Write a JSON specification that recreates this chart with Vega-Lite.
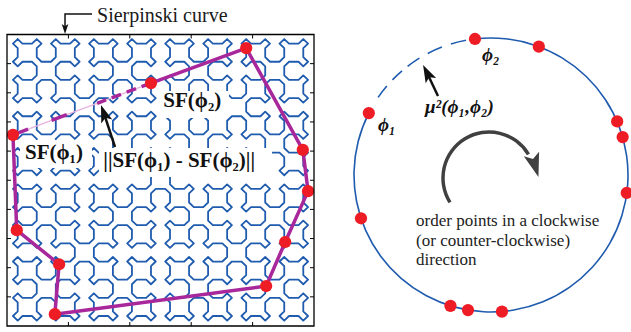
{
"$schema":"https://vega.github.io/schema/vega-lite/v6.json",
"width":631,"height":332,
"autosize":{"type":"fit","contains":"padding"},
"padding":0,
"background":"white",
"config":{"view":{"stroke":null},"text":{"font":"Liberation Serif"}},
"datasets":{
"curve":[
{"x":0,"y":0},{"x":1,"y":-1},{"x":3,"y":-1},{"x":4,"y":0},{"x":5,"y":-1},{"x":4,"y":-2},{"x":4,"y":-4},{"x":5,"y":-5},{"x":7,"y":-5},{"x":8,"y":-4},{"x":8,"y":-2},{"x":7,"y":-1},{"x":8,"y":0},{"x":9,"y":-1},{"x":11,"y":-1},{"x":12,"y":0},
{"x":13,"y":-1},{"x":12,"y":-2},{"x":12,"y":-4},{"x":13,"y":-5},{"x":12,"y":-6},{"x":11,"y":-5},{"x":9,"y":-5},{"x":8,"y":-6},{"x":8,"y":-8},{"x":9,"y":-9},{"x":11,"y":-9},{"x":12,"y":-8},{"x":13,"y":-9},{"x":12,"y":-10},{"x":12,"y":-12},{"x":13,"y":-13},
{"x":15,"y":-13},{"x":16,"y":-12},{"x":16,"y":-10},{"x":15,"y":-9},{"x":16,"y":-8},{"x":17,"y":-9},{"x":19,"y":-9},{"x":20,"y":-8},{"x":20,"y":-6},{"x":19,"y":-5},{"x":17,"y":-5},{"x":16,"y":-6},{"x":15,"y":-5},{"x":16,"y":-4},{"x":16,"y":-2},{"x":15,"y":-1},
{"x":16,"y":0},{"x":17,"y":-1},{"x":19,"y":-1},{"x":20,"y":0},{"x":21,"y":-1},{"x":20,"y":-2},{"x":20,"y":-4},{"x":21,"y":-5},{"x":23,"y":-5},{"x":24,"y":-4},{"x":24,"y":-2},{"x":23,"y":-1},{"x":24,"y":0},{"x":25,"y":-1},{"x":27,"y":-1},{"x":28,"y":0},
{"x":29,"y":-1},{"x":28,"y":-2},{"x":28,"y":-4},{"x":29,"y":-5},{"x":28,"y":-6},{"x":27,"y":-5},{"x":25,"y":-5},{"x":24,"y":-6},{"x":24,"y":-8},{"x":25,"y":-9},{"x":27,"y":-9},{"x":28,"y":-8},{"x":29,"y":-9},{"x":28,"y":-10},{"x":28,"y":-12},{"x":29,"y":-13},
{"x":28,"y":-14},{"x":27,"y":-13},{"x":25,"y":-13},{"x":24,"y":-14},{"x":23,"y":-13},{"x":24,"y":-12},{"x":24,"y":-10},{"x":23,"y":-9},{"x":21,"y":-9},{"x":20,"y":-10},{"x":20,"y":-12},{"x":21,"y":-13},{"x":20,"y":-14},{"x":19,"y":-13},{"x":17,"y":-13},{"x":16,"y":-14},
{"x":16,"y":-16},{"x":17,"y":-17},{"x":19,"y":-17},{"x":20,"y":-16},{"x":21,"y":-17},{"x":20,"y":-18},{"x":20,"y":-20},{"x":21,"y":-21},{"x":23,"y":-21},{"x":24,"y":-20},{"x":24,"y":-18},{"x":23,"y":-17},{"x":24,"y":-16},{"x":25,"y":-17},{"x":27,"y":-17},{"x":28,"y":-16},
{"x":29,"y":-17},{"x":28,"y":-18},{"x":28,"y":-20},{"x":29,"y":-21},{"x":28,"y":-22},{"x":27,"y":-21},{"x":25,"y":-21},{"x":24,"y":-22},{"x":24,"y":-24},{"x":25,"y":-25},{"x":27,"y":-25},{"x":28,"y":-24},{"x":29,"y":-25},{"x":28,"y":-26},{"x":28,"y":-28},{"x":29,"y":-29},
{"x":31,"y":-29},{"x":32,"y":-28},{"x":32,"y":-26},{"x":31,"y":-25},{"x":32,"y":-24},{"x":33,"y":-25},{"x":35,"y":-25},{"x":36,"y":-24},{"x":36,"y":-22},{"x":35,"y":-21},{"x":33,"y":-21},{"x":32,"y":-22},{"x":31,"y":-21},{"x":32,"y":-20},{"x":32,"y":-18},{"x":31,"y":-17},
{"x":32,"y":-16},{"x":33,"y":-17},{"x":35,"y":-17},{"x":36,"y":-16},{"x":37,"y":-17},{"x":36,"y":-18},{"x":36,"y":-20},{"x":37,"y":-21},{"x":39,"y":-21},{"x":40,"y":-20},{"x":40,"y":-18},{"x":39,"y":-17},{"x":40,"y":-16},{"x":41,"y":-17},{"x":43,"y":-17},{"x":44,"y":-16},
{"x":44,"y":-14},{"x":43,"y":-13},{"x":41,"y":-13},{"x":40,"y":-14},{"x":39,"y":-13},{"x":40,"y":-12},{"x":40,"y":-10},{"x":39,"y":-9},{"x":37,"y":-9},{"x":36,"y":-10},{"x":36,"y":-12},{"x":37,"y":-13},{"x":36,"y":-14},{"x":35,"y":-13},{"x":33,"y":-13},{"x":32,"y":-14},
{"x":31,"y":-13},{"x":32,"y":-12},{"x":32,"y":-10},{"x":31,"y":-9},{"x":32,"y":-8},{"x":33,"y":-9},{"x":35,"y":-9},{"x":36,"y":-8},{"x":36,"y":-6},{"x":35,"y":-5},{"x":33,"y":-5},{"x":32,"y":-6},{"x":31,"y":-5},{"x":32,"y":-4},{"x":32,"y":-2},{"x":31,"y":-1},
{"x":32,"y":0},{"x":33,"y":-1},{"x":35,"y":-1},{"x":36,"y":0},{"x":37,"y":-1},{"x":36,"y":-2},{"x":36,"y":-4},{"x":37,"y":-5},{"x":39,"y":-5},{"x":40,"y":-4},{"x":40,"y":-2},{"x":39,"y":-1},{"x":40,"y":0},{"x":41,"y":-1},{"x":43,"y":-1},{"x":44,"y":0},
{"x":45,"y":-1},{"x":44,"y":-2},{"x":44,"y":-4},{"x":45,"y":-5},{"x":44,"y":-6},{"x":43,"y":-5},{"x":41,"y":-5},{"x":40,"y":-6},{"x":40,"y":-8},{"x":41,"y":-9},{"x":43,"y":-9},{"x":44,"y":-8},{"x":45,"y":-9},{"x":44,"y":-10},{"x":44,"y":-12},{"x":45,"y":-13},
{"x":47,"y":-13},{"x":48,"y":-12},{"x":48,"y":-10},{"x":47,"y":-9},{"x":48,"y":-8},{"x":49,"y":-9},{"x":51,"y":-9},{"x":52,"y":-8},{"x":52,"y":-6},{"x":51,"y":-5},{"x":49,"y":-5},{"x":48,"y":-6},{"x":47,"y":-5},{"x":48,"y":-4},{"x":48,"y":-2},{"x":47,"y":-1},
{"x":48,"y":0},{"x":49,"y":-1},{"x":51,"y":-1},{"x":52,"y":0},{"x":53,"y":-1},{"x":52,"y":-2},{"x":52,"y":-4},{"x":53,"y":-5},{"x":55,"y":-5},{"x":56,"y":-4},{"x":56,"y":-2},{"x":55,"y":-1},{"x":56,"y":0},{"x":57,"y":-1},{"x":59,"y":-1},{"x":60,"y":0},
{"x":61,"y":-1},{"x":60,"y":-2},{"x":60,"y":-4},{"x":61,"y":-5},{"x":60,"y":-6},{"x":59,"y":-5},{"x":57,"y":-5},{"x":56,"y":-6},{"x":56,"y":-8},{"x":57,"y":-9},{"x":59,"y":-9},{"x":60,"y":-8},{"x":61,"y":-9},{"x":60,"y":-10},{"x":60,"y":-12},{"x":61,"y":-13},
{"x":60,"y":-14},{"x":59,"y":-13},{"x":57,"y":-13},{"x":56,"y":-14},{"x":55,"y":-13},{"x":56,"y":-12},{"x":56,"y":-10},{"x":55,"y":-9},{"x":53,"y":-9},{"x":52,"y":-10},{"x":52,"y":-12},{"x":53,"y":-13},{"x":52,"y":-14},{"x":51,"y":-13},{"x":49,"y":-13},{"x":48,"y":-14},
{"x":48,"y":-16},{"x":49,"y":-17},{"x":51,"y":-17},{"x":52,"y":-16},{"x":53,"y":-17},{"x":52,"y":-18},{"x":52,"y":-20},{"x":53,"y":-21},{"x":55,"y":-21},{"x":56,"y":-20},{"x":56,"y":-18},{"x":55,"y":-17},{"x":56,"y":-16},{"x":57,"y":-17},{"x":59,"y":-17},{"x":60,"y":-16},
{"x":61,"y":-17},{"x":60,"y":-18},{"x":60,"y":-20},{"x":61,"y":-21},{"x":60,"y":-22},{"x":59,"y":-21},{"x":57,"y":-21},{"x":56,"y":-22},{"x":56,"y":-24},{"x":57,"y":-25},{"x":59,"y":-25},{"x":60,"y":-24},{"x":61,"y":-25},{"x":60,"y":-26},{"x":60,"y":-28},{"x":61,"y":-29},
{"x":60,"y":-30},{"x":59,"y":-29},{"x":57,"y":-29},{"x":56,"y":-30},{"x":55,"y":-29},{"x":56,"y":-28},{"x":56,"y":-26},{"x":55,"y":-25},{"x":53,"y":-25},{"x":52,"y":-26},{"x":52,"y":-28},{"x":53,"y":-29},{"x":52,"y":-30},{"x":51,"y":-29},{"x":49,"y":-29},{"x":48,"y":-30},
{"x":47,"y":-29},{"x":48,"y":-28},{"x":48,"y":-26},{"x":47,"y":-25},{"x":48,"y":-24},{"x":49,"y":-25},{"x":51,"y":-25},{"x":52,"y":-24},{"x":52,"y":-22},{"x":51,"y":-21},{"x":49,"y":-21},{"x":48,"y":-22},{"x":47,"y":-21},{"x":48,"y":-20},{"x":48,"y":-18},{"x":47,"y":-17},
{"x":45,"y":-17},{"x":44,"y":-18},{"x":44,"y":-20},{"x":45,"y":-21},{"x":44,"y":-22},{"x":43,"y":-21},{"x":41,"y":-21},{"x":40,"y":-22},{"x":40,"y":-24},{"x":41,"y":-25},{"x":43,"y":-25},{"x":44,"y":-24},{"x":45,"y":-25},{"x":44,"y":-26},{"x":44,"y":-28},{"x":45,"y":-29},
{"x":44,"y":-30},{"x":43,"y":-29},{"x":41,"y":-29},{"x":40,"y":-30},{"x":39,"y":-29},{"x":40,"y":-28},{"x":40,"y":-26},{"x":39,"y":-25},{"x":37,"y":-25},{"x":36,"y":-26},{"x":36,"y":-28},{"x":37,"y":-29},{"x":36,"y":-30},{"x":35,"y":-29},{"x":33,"y":-29},{"x":32,"y":-30},
{"x":32,"y":-32},{"x":33,"y":-33},{"x":35,"y":-33},{"x":36,"y":-32},{"x":37,"y":-33},{"x":36,"y":-34},{"x":36,"y":-36},{"x":37,"y":-37},{"x":39,"y":-37},{"x":40,"y":-36},{"x":40,"y":-34},{"x":39,"y":-33},{"x":40,"y":-32},{"x":41,"y":-33},{"x":43,"y":-33},{"x":44,"y":-32},
{"x":45,"y":-33},{"x":44,"y":-34},{"x":44,"y":-36},{"x":45,"y":-37},{"x":44,"y":-38},{"x":43,"y":-37},{"x":41,"y":-37},{"x":40,"y":-38},{"x":40,"y":-40},{"x":41,"y":-41},{"x":43,"y":-41},{"x":44,"y":-40},{"x":45,"y":-41},{"x":44,"y":-42},{"x":44,"y":-44},{"x":45,"y":-45},
{"x":47,"y":-45},{"x":48,"y":-44},{"x":48,"y":-42},{"x":47,"y":-41},{"x":48,"y":-40},{"x":49,"y":-41},{"x":51,"y":-41},{"x":52,"y":-40},{"x":52,"y":-38},{"x":51,"y":-37},{"x":49,"y":-37},{"x":48,"y":-38},{"x":47,"y":-37},{"x":48,"y":-36},{"x":48,"y":-34},{"x":47,"y":-33},
{"x":48,"y":-32},{"x":49,"y":-33},{"x":51,"y":-33},{"x":52,"y":-32},{"x":53,"y":-33},{"x":52,"y":-34},{"x":52,"y":-36},{"x":53,"y":-37},{"x":55,"y":-37},{"x":56,"y":-36},{"x":56,"y":-34},{"x":55,"y":-33},{"x":56,"y":-32},{"x":57,"y":-33},{"x":59,"y":-33},{"x":60,"y":-32},
{"x":61,"y":-33},{"x":60,"y":-34},{"x":60,"y":-36},{"x":61,"y":-37},{"x":60,"y":-38},{"x":59,"y":-37},{"x":57,"y":-37},{"x":56,"y":-38},{"x":56,"y":-40},{"x":57,"y":-41},{"x":59,"y":-41},{"x":60,"y":-40},{"x":61,"y":-41},{"x":60,"y":-42},{"x":60,"y":-44},{"x":61,"y":-45},
{"x":60,"y":-46},{"x":59,"y":-45},{"x":57,"y":-45},{"x":56,"y":-46},{"x":55,"y":-45},{"x":56,"y":-44},{"x":56,"y":-42},{"x":55,"y":-41},{"x":53,"y":-41},{"x":52,"y":-42},{"x":52,"y":-44},{"x":53,"y":-45},{"x":52,"y":-46},{"x":51,"y":-45},{"x":49,"y":-45},{"x":48,"y":-46},
{"x":48,"y":-48},{"x":49,"y":-49},{"x":51,"y":-49},{"x":52,"y":-48},{"x":53,"y":-49},{"x":52,"y":-50},{"x":52,"y":-52},{"x":53,"y":-53},{"x":55,"y":-53},{"x":56,"y":-52},{"x":56,"y":-50},{"x":55,"y":-49},{"x":56,"y":-48},{"x":57,"y":-49},{"x":59,"y":-49},{"x":60,"y":-48},
{"x":61,"y":-49},{"x":60,"y":-50},{"x":60,"y":-52},{"x":61,"y":-53},{"x":60,"y":-54},{"x":59,"y":-53},{"x":57,"y":-53},{"x":56,"y":-54},{"x":56,"y":-56},{"x":57,"y":-57},{"x":59,"y":-57},{"x":60,"y":-56},{"x":61,"y":-57},{"x":60,"y":-58},{"x":60,"y":-60},{"x":61,"y":-61},
{"x":60,"y":-62},{"x":59,"y":-61},{"x":57,"y":-61},{"x":56,"y":-62},{"x":55,"y":-61},{"x":56,"y":-60},{"x":56,"y":-58},{"x":55,"y":-57},{"x":53,"y":-57},{"x":52,"y":-58},{"x":52,"y":-60},{"x":53,"y":-61},{"x":52,"y":-62},{"x":51,"y":-61},{"x":49,"y":-61},{"x":48,"y":-62},
{"x":47,"y":-61},{"x":48,"y":-60},{"x":48,"y":-58},{"x":47,"y":-57},{"x":48,"y":-56},{"x":49,"y":-57},{"x":51,"y":-57},{"x":52,"y":-56},{"x":52,"y":-54},{"x":51,"y":-53},{"x":49,"y":-53},{"x":48,"y":-54},{"x":47,"y":-53},{"x":48,"y":-52},{"x":48,"y":-50},{"x":47,"y":-49},
{"x":45,"y":-49},{"x":44,"y":-50},{"x":44,"y":-52},{"x":45,"y":-53},{"x":44,"y":-54},{"x":43,"y":-53},{"x":41,"y":-53},{"x":40,"y":-54},{"x":40,"y":-56},{"x":41,"y":-57},{"x":43,"y":-57},{"x":44,"y":-56},{"x":45,"y":-57},{"x":44,"y":-58},{"x":44,"y":-60},{"x":45,"y":-61},
{"x":44,"y":-62},{"x":43,"y":-61},{"x":41,"y":-61},{"x":40,"y":-62},{"x":39,"y":-61},{"x":40,"y":-60},{"x":40,"y":-58},{"x":39,"y":-57},{"x":37,"y":-57},{"x":36,"y":-58},{"x":36,"y":-60},{"x":37,"y":-61},{"x":36,"y":-62},{"x":35,"y":-61},{"x":33,"y":-61},{"x":32,"y":-62},
{"x":31,"y":-61},{"x":32,"y":-60},{"x":32,"y":-58},{"x":31,"y":-57},{"x":32,"y":-56},{"x":33,"y":-57},{"x":35,"y":-57},{"x":36,"y":-56},{"x":36,"y":-54},{"x":35,"y":-53},{"x":33,"y":-53},{"x":32,"y":-54},{"x":31,"y":-53},{"x":32,"y":-52},{"x":32,"y":-50},{"x":31,"y":-49},
{"x":32,"y":-48},{"x":33,"y":-49},{"x":35,"y":-49},{"x":36,"y":-48},{"x":37,"y":-49},{"x":36,"y":-50},{"x":36,"y":-52},{"x":37,"y":-53},{"x":39,"y":-53},{"x":40,"y":-52},{"x":40,"y":-50},{"x":39,"y":-49},{"x":40,"y":-48},{"x":41,"y":-49},{"x":43,"y":-49},{"x":44,"y":-48},
{"x":44,"y":-46},{"x":43,"y":-45},{"x":41,"y":-45},{"x":40,"y":-46},{"x":39,"y":-45},{"x":40,"y":-44},{"x":40,"y":-42},{"x":39,"y":-41},{"x":37,"y":-41},{"x":36,"y":-42},{"x":36,"y":-44},{"x":37,"y":-45},{"x":36,"y":-46},{"x":35,"y":-45},{"x":33,"y":-45},{"x":32,"y":-46},
{"x":31,"y":-45},{"x":32,"y":-44},{"x":32,"y":-42},{"x":31,"y":-41},{"x":32,"y":-40},{"x":33,"y":-41},{"x":35,"y":-41},{"x":36,"y":-40},{"x":36,"y":-38},{"x":35,"y":-37},{"x":33,"y":-37},{"x":32,"y":-38},{"x":31,"y":-37},{"x":32,"y":-36},{"x":32,"y":-34},{"x":31,"y":-33},
{"x":29,"y":-33},{"x":28,"y":-34},{"x":28,"y":-36},{"x":29,"y":-37},{"x":28,"y":-38},{"x":27,"y":-37},{"x":25,"y":-37},{"x":24,"y":-38},{"x":24,"y":-40},{"x":25,"y":-41},{"x":27,"y":-41},{"x":28,"y":-40},{"x":29,"y":-41},{"x":28,"y":-42},{"x":28,"y":-44},{"x":29,"y":-45},
{"x":28,"y":-46},{"x":27,"y":-45},{"x":25,"y":-45},{"x":24,"y":-46},{"x":23,"y":-45},{"x":24,"y":-44},{"x":24,"y":-42},{"x":23,"y":-41},{"x":21,"y":-41},{"x":20,"y":-42},{"x":20,"y":-44},{"x":21,"y":-45},{"x":20,"y":-46},{"x":19,"y":-45},{"x":17,"y":-45},{"x":16,"y":-46},
{"x":16,"y":-48},{"x":17,"y":-49},{"x":19,"y":-49},{"x":20,"y":-48},{"x":21,"y":-49},{"x":20,"y":-50},{"x":20,"y":-52},{"x":21,"y":-53},{"x":23,"y":-53},{"x":24,"y":-52},{"x":24,"y":-50},{"x":23,"y":-49},{"x":24,"y":-48},{"x":25,"y":-49},{"x":27,"y":-49},{"x":28,"y":-48},
{"x":29,"y":-49},{"x":28,"y":-50},{"x":28,"y":-52},{"x":29,"y":-53},{"x":28,"y":-54},{"x":27,"y":-53},{"x":25,"y":-53},{"x":24,"y":-54},{"x":24,"y":-56},{"x":25,"y":-57},{"x":27,"y":-57},{"x":28,"y":-56},{"x":29,"y":-57},{"x":28,"y":-58},{"x":28,"y":-60},{"x":29,"y":-61},
{"x":28,"y":-62},{"x":27,"y":-61},{"x":25,"y":-61},{"x":24,"y":-62},{"x":23,"y":-61},{"x":24,"y":-60},{"x":24,"y":-58},{"x":23,"y":-57},{"x":21,"y":-57},{"x":20,"y":-58},{"x":20,"y":-60},{"x":21,"y":-61},{"x":20,"y":-62},{"x":19,"y":-61},{"x":17,"y":-61},{"x":16,"y":-62},
{"x":15,"y":-61},{"x":16,"y":-60},{"x":16,"y":-58},{"x":15,"y":-57},{"x":16,"y":-56},{"x":17,"y":-57},{"x":19,"y":-57},{"x":20,"y":-56},{"x":20,"y":-54},{"x":19,"y":-53},{"x":17,"y":-53},{"x":16,"y":-54},{"x":15,"y":-53},{"x":16,"y":-52},{"x":16,"y":-50},{"x":15,"y":-49},
{"x":13,"y":-49},{"x":12,"y":-50},{"x":12,"y":-52},{"x":13,"y":-53},{"x":12,"y":-54},{"x":11,"y":-53},{"x":9,"y":-53},{"x":8,"y":-54},{"x":8,"y":-56},{"x":9,"y":-57},{"x":11,"y":-57},{"x":12,"y":-56},{"x":13,"y":-57},{"x":12,"y":-58},{"x":12,"y":-60},{"x":13,"y":-61},
{"x":12,"y":-62},{"x":11,"y":-61},{"x":9,"y":-61},{"x":8,"y":-62},{"x":7,"y":-61},{"x":8,"y":-60},{"x":8,"y":-58},{"x":7,"y":-57},{"x":5,"y":-57},{"x":4,"y":-58},{"x":4,"y":-60},{"x":5,"y":-61},{"x":4,"y":-62},{"x":3,"y":-61},{"x":1,"y":-61},{"x":0,"y":-62},
{"x":-1,"y":-61},{"x":0,"y":-60},{"x":0,"y":-58},{"x":-1,"y":-57},{"x":0,"y":-56},{"x":1,"y":-57},{"x":3,"y":-57},{"x":4,"y":-56},{"x":4,"y":-54},{"x":3,"y":-53},{"x":1,"y":-53},{"x":0,"y":-54},{"x":-1,"y":-53},{"x":0,"y":-52},{"x":0,"y":-50},{"x":-1,"y":-49},
{"x":0,"y":-48},{"x":1,"y":-49},{"x":3,"y":-49},{"x":4,"y":-48},{"x":5,"y":-49},{"x":4,"y":-50},{"x":4,"y":-52},{"x":5,"y":-53},{"x":7,"y":-53},{"x":8,"y":-52},{"x":8,"y":-50},{"x":7,"y":-49},{"x":8,"y":-48},{"x":9,"y":-49},{"x":11,"y":-49},{"x":12,"y":-48},
{"x":12,"y":-46},{"x":11,"y":-45},{"x":9,"y":-45},{"x":8,"y":-46},{"x":7,"y":-45},{"x":8,"y":-44},{"x":8,"y":-42},{"x":7,"y":-41},{"x":5,"y":-41},{"x":4,"y":-42},{"x":4,"y":-44},{"x":5,"y":-45},{"x":4,"y":-46},{"x":3,"y":-45},{"x":1,"y":-45},{"x":0,"y":-46},
{"x":-1,"y":-45},{"x":0,"y":-44},{"x":0,"y":-42},{"x":-1,"y":-41},{"x":0,"y":-40},{"x":1,"y":-41},{"x":3,"y":-41},{"x":4,"y":-40},{"x":4,"y":-38},{"x":3,"y":-37},{"x":1,"y":-37},{"x":0,"y":-38},{"x":-1,"y":-37},{"x":0,"y":-36},{"x":0,"y":-34},{"x":-1,"y":-33},
{"x":0,"y":-32},{"x":1,"y":-33},{"x":3,"y":-33},{"x":4,"y":-32},{"x":5,"y":-33},{"x":4,"y":-34},{"x":4,"y":-36},{"x":5,"y":-37},{"x":7,"y":-37},{"x":8,"y":-36},{"x":8,"y":-34},{"x":7,"y":-33},{"x":8,"y":-32},{"x":9,"y":-33},{"x":11,"y":-33},{"x":12,"y":-32},
{"x":13,"y":-33},{"x":12,"y":-34},{"x":12,"y":-36},{"x":13,"y":-37},{"x":12,"y":-38},{"x":11,"y":-37},{"x":9,"y":-37},{"x":8,"y":-38},{"x":8,"y":-40},{"x":9,"y":-41},{"x":11,"y":-41},{"x":12,"y":-40},{"x":13,"y":-41},{"x":12,"y":-42},{"x":12,"y":-44},{"x":13,"y":-45},
{"x":15,"y":-45},{"x":16,"y":-44},{"x":16,"y":-42},{"x":15,"y":-41},{"x":16,"y":-40},{"x":17,"y":-41},{"x":19,"y":-41},{"x":20,"y":-40},{"x":20,"y":-38},{"x":19,"y":-37},{"x":17,"y":-37},{"x":16,"y":-38},{"x":15,"y":-37},{"x":16,"y":-36},{"x":16,"y":-34},{"x":15,"y":-33},
{"x":16,"y":-32},{"x":17,"y":-33},{"x":19,"y":-33},{"x":20,"y":-32},{"x":21,"y":-33},{"x":20,"y":-34},{"x":20,"y":-36},{"x":21,"y":-37},{"x":23,"y":-37},{"x":24,"y":-36},{"x":24,"y":-34},{"x":23,"y":-33},{"x":24,"y":-32},{"x":25,"y":-33},{"x":27,"y":-33},{"x":28,"y":-32},
{"x":28,"y":-30},{"x":27,"y":-29},{"x":25,"y":-29},{"x":24,"y":-30},{"x":23,"y":-29},{"x":24,"y":-28},{"x":24,"y":-26},{"x":23,"y":-25},{"x":21,"y":-25},{"x":20,"y":-26},{"x":20,"y":-28},{"x":21,"y":-29},{"x":20,"y":-30},{"x":19,"y":-29},{"x":17,"y":-29},{"x":16,"y":-30},
{"x":15,"y":-29},{"x":16,"y":-28},{"x":16,"y":-26},{"x":15,"y":-25},{"x":16,"y":-24},{"x":17,"y":-25},{"x":19,"y":-25},{"x":20,"y":-24},{"x":20,"y":-22},{"x":19,"y":-21},{"x":17,"y":-21},{"x":16,"y":-22},{"x":15,"y":-21},{"x":16,"y":-20},{"x":16,"y":-18},{"x":15,"y":-17},
{"x":13,"y":-17},{"x":12,"y":-18},{"x":12,"y":-20},{"x":13,"y":-21},{"x":12,"y":-22},{"x":11,"y":-21},{"x":9,"y":-21},{"x":8,"y":-22},{"x":8,"y":-24},{"x":9,"y":-25},{"x":11,"y":-25},{"x":12,"y":-24},{"x":13,"y":-25},{"x":12,"y":-26},{"x":12,"y":-28},{"x":13,"y":-29},
{"x":12,"y":-30},{"x":11,"y":-29},{"x":9,"y":-29},{"x":8,"y":-30},{"x":7,"y":-29},{"x":8,"y":-28},{"x":8,"y":-26},{"x":7,"y":-25},{"x":5,"y":-25},{"x":4,"y":-26},{"x":4,"y":-28},{"x":5,"y":-29},{"x":4,"y":-30},{"x":3,"y":-29},{"x":1,"y":-29},{"x":0,"y":-30},
{"x":-1,"y":-29},{"x":0,"y":-28},{"x":0,"y":-26},{"x":-1,"y":-25},{"x":0,"y":-24},{"x":1,"y":-25},{"x":3,"y":-25},{"x":4,"y":-24},{"x":4,"y":-22},{"x":3,"y":-21},{"x":1,"y":-21},{"x":0,"y":-22},{"x":-1,"y":-21},{"x":0,"y":-20},{"x":0,"y":-18},{"x":-1,"y":-17},
{"x":0,"y":-16},{"x":1,"y":-17},{"x":3,"y":-17},{"x":4,"y":-16},{"x":5,"y":-17},{"x":4,"y":-18},{"x":4,"y":-20},{"x":5,"y":-21},{"x":7,"y":-21},{"x":8,"y":-20},{"x":8,"y":-18},{"x":7,"y":-17},{"x":8,"y":-16},{"x":9,"y":-17},{"x":11,"y":-17},{"x":12,"y":-16},
{"x":12,"y":-14},{"x":11,"y":-13},{"x":9,"y":-13},{"x":8,"y":-14},{"x":7,"y":-13},{"x":8,"y":-12},{"x":8,"y":-10},{"x":7,"y":-9},{"x":5,"y":-9},{"x":4,"y":-10},{"x":4,"y":-12},{"x":5,"y":-13},{"x":4,"y":-14},{"x":3,"y":-13},{"x":1,"y":-13},{"x":0,"y":-14},
{"x":-1,"y":-13},{"x":0,"y":-12},{"x":0,"y":-10},{"x":-1,"y":-9},{"x":0,"y":-8},{"x":1,"y":-9},{"x":3,"y":-9},{"x":4,"y":-8},{"x":4,"y":-6},{"x":3,"y":-5},{"x":1,"y":-5},{"x":0,"y":-6},{"x":-1,"y":-5},{"x":0,"y":-4},{"x":0,"y":-2},{"x":-1,"y":-1},
{"x":0,"y":0}
],
"boxes":[{"x":29.47,"x2":44.39,"y":-11.44,"y2":-17.39},{"x":0.48,"x2":15.61,"y":-22.24,"y2":-28.4},{"x":17.08,"x2":53.43,"y":-24.0,"y2":-30.38}],
"thin":[{"x":28.0,"y":-9.7},{"x":-1.0,"y":-21.1}],
"poly":[{"x":-1.0,"y":-21.1},{"x":-0.2,"y":-42.1},{"x":8.7,"y":-49.6},{"x":7.8,"y":-60.6},{"x":52.2,"y":-54.4},{"x":56.2,"y":-44.7},{"x":61.0,"y":-33.5},{"x":59.9,"y":-24.4},{"x":48.0,"y":-2.0},{"x":28.0,"y":-9.7}],
"dashA":[{"x":28.0,"y":-9.7},{"x":16.69,"y":-14.15}],
"dashB":[{"x":10.31,"y":-16.65,"x2":7.12,"y2":-17.91},{"x":2.19,"y":-19.85,"x2":-1.0,"y2":-21.1}],
"pts":[{"x":48.0,"y":-2.0},{"x":28.0,"y":-9.7},{"x":-1.0,"y":-21.1},{"x":-0.2,"y":-42.1},{"x":8.7,"y":-49.6},{"x":7.8,"y":-60.6},{"x":52.2,"y":-54.4},{"x":56.2,"y":-44.7},{"x":61.0,"y":-33.5},{"x":59.9,"y":-24.4}],
"frame":[{"x":-2.25,"x2":62.25,"y":-63.2,"y2":1.0}],
"ticks":[
{"x":-2.25,"x2":-1.41,"y":-56.78,"y2":-56.78},{"x":-2.25,"x2":-1.41,"y":-50.36,"y2":-50.36},{"x":-2.25,"x2":-1.41,"y":-43.94,"y2":-43.94},{"x":-2.25,"x2":-1.41,"y":-37.52,"y2":-37.52},{"x":-2.25,"x2":-1.41,"y":-31.1,"y2":-31.1},{"x":-2.25,"x2":-1.41,"y":-24.68,"y2":-24.68},{"x":-2.25,"x2":-1.41,"y":-18.26,"y2":-18.26},{"x":-2.25,"x2":-1.41,"y":-11.84,"y2":-11.84},{"x":-2.25,"x2":-1.41,"y":-5.42,"y2":-5.42},
{"x":62.25,"x2":61.41,"y":-56.78,"y2":-56.78},{"x":62.25,"x2":61.41,"y":-50.36,"y2":-50.36},{"x":62.25,"x2":61.41,"y":-43.94,"y2":-43.94},{"x":62.25,"x2":61.41,"y":-37.52,"y2":-37.52},{"x":62.25,"x2":61.41,"y":-31.1,"y2":-31.1},{"x":62.25,"x2":61.41,"y":-24.68,"y2":-24.68},{"x":62.25,"x2":61.41,"y":-18.26,"y2":-18.26},{"x":62.25,"x2":61.41,"y":-11.84,"y2":-11.84},{"x":62.25,"x2":61.41,"y":-5.42,"y2":-5.42},
{"x":10.65,"x2":10.65,"y":-63.2,"y2":-62.32},{"x":23.55,"x2":23.55,"y":-63.2,"y2":-62.32},{"x":36.45,"x2":36.45,"y":-63.2,"y2":-62.32},{"x":49.35,"x2":49.35,"y":-63.2,"y2":-62.32},
{"x":10.65,"x2":10.65,"y":1.0,"y2":0.12},{"x":23.55,"x2":23.55,"y":1.0,"y2":0.12},{"x":36.45,"x2":36.45,"y":1.0,"y2":0.12},{"x":49.35,"x2":49.35,"y":1.0,"y2":0.12}
],
"title":[{"x":16.66,"y":3.75,"t":"Sierpinski curve"}],
"boldL":[{"x":30.59,"y":-14.99,"t":"SF(ϕ₂)"},{"x":1.53,"y":-26.38,"t":"SF(ϕ₁)"},{"x":17.98,"y":-28.2,"t":"||SF(ϕ₁) - SF(ϕ₂)||"}],
"arr1":[{"x":15.61,"y":5.515},{"x":9.94,"y":5.515},{"x":9.94,"y":2.32}],
"head1":[{"x":9.94,"y":2.32}],
"arr2":[{"x":20.44,"y":-23.78},{"x":18.17,"y":-16.55}],
"head2":[{"x":18.17,"y":-16.55}],
"ring":[{"t0":-0.11694,"t1":5.18188}],
"dashes":[{"t0":-0.96866,"t1":-0.86394},{"t0":-0.80285,"t1":-0.70686},{"t0":-0.6545,"t1":-0.54978},{"t0":-0.47997,"t1":-0.36652},{"t0":-0.29671,"t1":-0.18326}],
"gray":[{"t0":-2.1293,"t1":1.03}],
"grayHead":[{"x":0.318,"y":0.079}],
"cpts":[{"x":-0.117,"y":0.993},{"x":0.349,"y":0.937},{"x":0.921,"y":0.391},{"x":0.961,"y":0.277},{"x":0.991,"y":-0.131},{"x":0.08,"y":-0.997},{"x":-0.168,"y":-0.986},{"x":-0.296,"y":-0.955},{"x":-0.949,"y":-0.316},{"x":-0.892,"y":0.452}],
"phiR":[{"x":-0.825,"y":0.321,"t":"ϕ₁"},{"x":-0.0657,"y":0.831,"t":"ϕ₂"},{"x":-0.4818,"y":0.4526,"t":"μ²(ϕ₁,ϕ₂)"}],
"note":[{"x":-0.547,"y":-0.3723,"t":"order points in a clockwise"},{"x":-0.547,"y":-0.5146,"t":"(or counter-clockwise)"},{"x":-0.547,"y":-0.6569,"t":"direction"}],
"arr3":[{"x":-0.387,"y":0.577},{"x":-0.464,"y":0.739}],
"head3":[{"x":-0.464,"y":0.739}]
},
"resolve":{"scale":{"x":"independent","y":"independent"}},
"layer":[
{"layer":[
{"data":{"name":"curve"},"mark":{"type":"line","color":"#1F5BAE","strokeWidth":1.8,"strokeJoin":"round","strokeCap":"round"},
 "encoding":{"x":{"field":"x","type":"quantitative","scale":{"domain":[-3.7207,128.8509],"nice":false,"zero":false},"axis":null},"y":{"field":"y","type":"quantitative","scale":{"domain":[-64.5214,8.5983],"nice":false,"zero":false},"axis":null},"order":{"value":null}}},
{"data":{"name":"boxes"},"mark":{"type":"rect","color":"white"},
 "encoding":{"x":{"field":"x","type":"quantitative","scale":{"domain":[-3.7207,128.8509],"nice":false,"zero":false},"axis":null},"x2":{"field":"x2"},"y":{"field":"y","type":"quantitative","scale":{"domain":[-64.5214,8.5983],"nice":false,"zero":false},"axis":null},"y2":{"field":"y2"}}},
{"data":{"name":"thin"},"mark":{"type":"line","color":"#E6B3DF","strokeWidth":1.2},
 "encoding":{"x":{"field":"x","type":"quantitative","scale":{"domain":[-3.7207,128.8509],"nice":false,"zero":false},"axis":null},"y":{"field":"y","type":"quantitative","scale":{"domain":[-64.5214,8.5983],"nice":false,"zero":false},"axis":null},"order":{"value":null}}},
{"data":{"name":"poly"},"mark":{"type":"line","color":"#A8279B","strokeWidth":3.5,"strokeJoin":"round"},
 "encoding":{"x":{"field":"x","type":"quantitative","scale":{"domain":[-3.7207,128.8509],"nice":false,"zero":false},"axis":null},"y":{"field":"y","type":"quantitative","scale":{"domain":[-64.5214,8.5983],"nice":false,"zero":false},"axis":null},"order":{"value":null}}},
{"data":{"name":"dashA"},"mark":{"type":"line","color":"#A8279B","strokeWidth":3.5,"strokeDash":[10,6]},
 "encoding":{"x":{"field":"x","type":"quantitative","scale":{"domain":[-3.7207,128.8509],"nice":false,"zero":false},"axis":null},"y":{"field":"y","type":"quantitative","scale":{"domain":[-64.5214,8.5983],"nice":false,"zero":false},"axis":null},"order":{"value":null}}},
{"data":{"name":"dashB"},"mark":{"type":"rule","color":"#A8279B","strokeWidth":3.5},
 "encoding":{"x":{"field":"x","type":"quantitative","scale":{"domain":[-3.7207,128.8509],"nice":false,"zero":false},"axis":null},"x2":{"field":"x2"},"y":{"field":"y","type":"quantitative","scale":{"domain":[-64.5214,8.5983],"nice":false,"zero":false},"axis":null},"y2":{"field":"y2"}}},
{"data":{"name":"pts"},"mark":{"type":"point","filled":true,"opacity":1,"size":150,"color":"#EE1C25"},
 "encoding":{"x":{"field":"x","type":"quantitative","scale":{"domain":[-3.7207,128.8509],"nice":false,"zero":false},"axis":null},"y":{"field":"y","type":"quantitative","scale":{"domain":[-64.5214,8.5983],"nice":false,"zero":false},"axis":null}}},
{"data":{"name":"frame"},"mark":{"type":"rect","filled":false,"color":"#000000","strokeWidth":1.3},
 "encoding":{"x":{"field":"x","type":"quantitative","scale":{"domain":[-3.7207,128.8509],"nice":false,"zero":false},"axis":null},"x2":{"field":"x2"},"y":{"field":"y","type":"quantitative","scale":{"domain":[-64.5214,8.5983],"nice":false,"zero":false},"axis":null},"y2":{"field":"y2"}}},
{"data":{"name":"ticks"},"mark":{"type":"rule","color":"#000000","strokeWidth":1},
 "encoding":{"x":{"field":"x","type":"quantitative","scale":{"domain":[-3.7207,128.8509],"nice":false,"zero":false},"axis":null},"x2":{"field":"x2"},"y":{"field":"y","type":"quantitative","scale":{"domain":[-64.5214,8.5983],"nice":false,"zero":false},"axis":null},"y2":{"field":"y2"}}},
{"data":{"name":"title"},"mark":{"type":"text","align":"left","baseline":"alphabetic","fontSize":20,"color":"#1a1a1a","font":"Liberation Serif"},
 "encoding":{"x":{"field":"x","type":"quantitative","scale":{"domain":[-3.7207,128.8509],"nice":false,"zero":false},"axis":null},"y":{"field":"y","type":"quantitative","scale":{"domain":[-64.5214,8.5983],"nice":false,"zero":false},"axis":null},"text":{"field":"t"}}},
{"data":{"name":"boldL"},"mark":{"type":"text","align":"left","baseline":"alphabetic","fontSize":21,"fontWeight":"bold","color":"#111111","font":"Liberation Serif"},
 "encoding":{"x":{"field":"x","type":"quantitative","scale":{"domain":[-3.7207,128.8509],"nice":false,"zero":false},"axis":null},"y":{"field":"y","type":"quantitative","scale":{"domain":[-64.5214,8.5983],"nice":false,"zero":false},"axis":null},"text":{"field":"t"}}},
{"data":{"name":"arr1"},"mark":{"type":"line","color":"#111111","strokeWidth":1.5},
 "encoding":{"x":{"field":"x","type":"quantitative","scale":{"domain":[-3.7207,128.8509],"nice":false,"zero":false},"axis":null},"y":{"field":"y","type":"quantitative","scale":{"domain":[-64.5214,8.5983],"nice":false,"zero":false},"axis":null},"order":{"value":null}}},
{"data":{"name":"head1"},"mark":{"type":"point","shape":"M0,-1L0.6,0.8L0,0.4L-0.6,0.8Z","filled":true,"opacity":1,"size":123,"angle":180,"color":"#111111"},
 "encoding":{"x":{"field":"x","type":"quantitative","scale":{"domain":[-3.7207,128.8509],"nice":false,"zero":false},"axis":null},"y":{"field":"y","type":"quantitative","scale":{"domain":[-64.5214,8.5983],"nice":false,"zero":false},"axis":null}}},
{"data":{"name":"arr2"},"mark":{"type":"line","color":"#111111","strokeWidth":2.5},
 "encoding":{"x":{"field":"x","type":"quantitative","scale":{"domain":[-3.7207,128.8509],"nice":false,"zero":false},"axis":null},"y":{"field":"y","type":"quantitative","scale":{"domain":[-64.5214,8.5983],"nice":false,"zero":false},"axis":null},"order":{"value":null}}},
{"data":{"name":"head2"},"mark":{"type":"point","shape":"M0,-1L0.6,0.8L0,0.4L-0.6,0.8Z","filled":true,"opacity":1,"size":380,"angle":340.7,"color":"#111111"},
 "encoding":{"x":{"field":"x","type":"quantitative","scale":{"domain":[-3.7207,128.8509],"nice":false,"zero":false},"axis":null},"y":{"field":"y","type":"quantitative","scale":{"domain":[-64.5214,8.5983],"nice":false,"zero":false},"axis":null}}}
]},
{"layer":[
{"data":{"name":"ring"},"mark":{"type":"arc","outerRadius":137.8,"innerRadius":136.2,"color":"#1F5BAE"},
 "encoding":{"x":{"datum":0,"type":"quantitative","scale":{"domain":[-3.58394,1.021898],"nice":false,"zero":false},"axis":null},"y":{"datum":0,"type":"quantitative","scale":{"domain":[-1.145985,1.277372],"nice":false,"zero":false},"axis":null},"theta":{"field":"t0","type":"quantitative","scale":null,"stack":null},"theta2":{"field":"t1"}}},
{"data":{"name":"dashes"},"mark":{"type":"arc","outerRadius":137.8,"innerRadius":136.2,"color":"#1F5BAE"},
 "encoding":{"x":{"datum":0,"type":"quantitative","scale":{"domain":[-3.58394,1.021898],"nice":false,"zero":false},"axis":null},"y":{"datum":0,"type":"quantitative","scale":{"domain":[-1.145985,1.277372],"nice":false,"zero":false},"axis":null},"theta":{"field":"t0","type":"quantitative","scale":null,"stack":null},"theta2":{"field":"t1"}}},
{"data":{"name":"gray"},"mark":{"type":"arc","outerRadius":47.75,"innerRadius":44.25,"color":"#404040"},
 "encoding":{"x":{"datum":-0.0146,"type":"quantitative","scale":{"domain":[-3.58394,1.021898],"nice":false,"zero":false},"axis":null},"y":{"datum":-0.0219,"type":"quantitative","scale":{"domain":[-1.145985,1.277372],"nice":false,"zero":false},"axis":null},"theta":{"field":"t0","type":"quantitative","scale":null,"stack":null},"theta2":{"field":"t1"}}},
{"data":{"name":"grayHead"},"mark":{"type":"point","shape":"M0,-1L0.6,0.8L0,0.4L-0.6,0.8Z","filled":true,"opacity":1,"size":710,"angle":163,"color":"#404040"},
 "encoding":{"x":{"field":"x","type":"quantitative","scale":{"domain":[-3.58394,1.021898],"nice":false,"zero":false},"axis":null},"y":{"field":"y","type":"quantitative","scale":{"domain":[-1.145985,1.277372],"nice":false,"zero":false},"axis":null}}},
{"data":{"name":"cpts"},"mark":{"type":"point","filled":true,"opacity":1,"size":150,"color":"#EE1C25","clip":true},
 "encoding":{"x":{"field":"x","type":"quantitative","scale":{"domain":[-3.58394,1.021898],"nice":false,"zero":false},"axis":null},"y":{"field":"y","type":"quantitative","scale":{"domain":[-1.145985,1.277372],"nice":false,"zero":false},"axis":null}}},
{"data":{"name":"phiR"},"mark":{"type":"text","align":"left","baseline":"alphabetic","fontSize":19,"fontWeight":"bold","fontStyle":"italic","color":"#111111","font":"Liberation Serif"},
 "encoding":{"x":{"field":"x","type":"quantitative","scale":{"domain":[-3.58394,1.021898],"nice":false,"zero":false},"axis":null},"y":{"field":"y","type":"quantitative","scale":{"domain":[-1.145985,1.277372],"nice":false,"zero":false},"axis":null},"text":{"field":"t"}}},
{"data":{"name":"note"},"mark":{"type":"text","align":"left","baseline":"alphabetic","fontSize":17,"color":"#222222","font":"Liberation Serif"},
 "encoding":{"x":{"field":"x","type":"quantitative","scale":{"domain":[-3.58394,1.021898],"nice":false,"zero":false},"axis":null},"y":{"field":"y","type":"quantitative","scale":{"domain":[-1.145985,1.277372],"nice":false,"zero":false},"axis":null},"text":{"field":"t"}}},
{"data":{"name":"arr3"},"mark":{"type":"line","color":"#111111","strokeWidth":2.5},
 "encoding":{"x":{"field":"x","type":"quantitative","scale":{"domain":[-3.58394,1.021898],"nice":false,"zero":false},"axis":null},"y":{"field":"y","type":"quantitative","scale":{"domain":[-1.145985,1.277372],"nice":false,"zero":false},"axis":null},"order":{"value":null}}},
{"data":{"name":"head3"},"mark":{"type":"point","shape":"M0,-1L0.6,0.8L0,0.4L-0.6,0.8Z","filled":true,"opacity":1,"size":380,"angle":333.4,"color":"#111111"},
 "encoding":{"x":{"field":"x","type":"quantitative","scale":{"domain":[-3.58394,1.021898],"nice":false,"zero":false},"axis":null},"y":{"field":"y","type":"quantitative","scale":{"domain":[-1.145985,1.277372],"nice":false,"zero":false},"axis":null}}}
]}
]
}
